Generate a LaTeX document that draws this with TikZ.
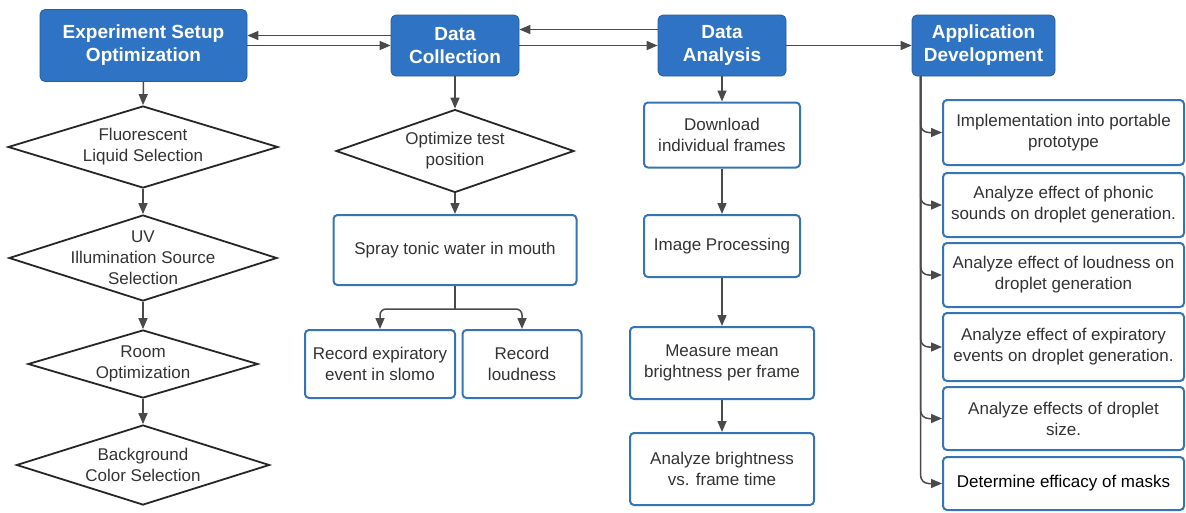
\documentclass[tikz,border=0pt]{standalone}
\usepackage{fontspec}
\setmainfont{Liberation Sans}
\usetikzlibrary{shapes.geometric, arrows.meta, positioning}
\definecolor{headblue}{HTML}{2F74C4}
\definecolor{boxblue}{HTML}{3574B5}
\definecolor{arrgray}{HTML}{4A4A4A}
\definecolor{txtgray}{HTML}{333333}

\begin{document}
\begin{tikzpicture}[
    x=1pt, y=-1pt,
    head/.style={
        fill=headblue,
        draw=headblue!80!black,
        line width=0.8pt,
        rounded corners=5pt,
        text=white,
        align=center,
        inner sep=2pt,
        font=\fontsize{19}{23}\selectfont\bfseries
    },
    txtbox/.style={
        draw=boxblue,
        fill=white,
        line width=2pt,
        rounded corners=4pt,
        text=txtgray,
        align=center,
        inner sep=1pt,
        font=\fontsize{17}{21}\selectfont
    },
    decision/.style={diamond, draw=black!85, line width=1.8pt, inner sep=0pt},
    dlabel/.style={align=center, text=txtgray, font=\fontsize{17}{21}\selectfont},
    arr/.style={draw=arrgray, line width=1.5pt, -{Triangle[length=11pt,width=9pt]}}
]
\useasboundingbox (0,0) rectangle (1186,512);

% Header row
\node[head, minimum width=207pt, minimum height=72pt] (setup) at (143.5,45.5) {Experiment Setup\\Optimization};
\node[head, minimum width=128pt, minimum height=61pt] (collect) at (455,45.5) {Data\\Collection};
\node[head, minimum width=128pt, minimum height=61pt] (analysis) at (722,45.5) {Data\\Analysis};
\node[head, minimum width=143pt, minimum height=61pt] (appdev) at (983.5,45.5) {Application\\Development};

\draw[arr] (setup.east) -- (collect.west);
\draw[arr] ([yshift=10pt]collect.west) -- ([yshift=10pt]collect.west -| setup.east);
\draw[arr] (collect.east) -- (analysis.west);
\draw[arr] ([yshift=16pt]analysis.west) -- ([yshift=16pt]analysis.west -| collect.east);
\draw[arr] (analysis.east) -- (appdev.west);

% Column 1: setup decisions
\node[decision, minimum width=270pt, minimum height=82pt] (fluo) at (143,147) {};
\node[dlabel] (fluotxt) at (fluo) {Fluorescent\\Liquid Selection};
\node[decision, minimum width=268pt, minimum height=86pt] (uv) at (143,258) {};
\node[dlabel] (uvtxt) at (uv) {UV\\Illumination Source\\Selection};
\node[decision, minimum width=230pt, minimum height=68pt] (room) at (143,364) {};
\node[dlabel] (roomtxt) at (room) {Room\\Optimization};
\node[decision, minimum width=253pt, minimum height=80pt] (backgr) at (143,465) {};
\node[dlabel] (backgrtxt) at (backgr) {Background\\Color Selection};

\draw[arr] (setup.south) -- (fluo.north);
\draw[arr] (fluo.south) -- (uv.north);
\draw[arr] (uv.south) -- (room.north);
\draw[arr] (room.south) -- (backgr.north);

% Column 2: data collection
\node[decision, minimum width=238pt, minimum height=83pt] (testpos) at (455,151) {};
\node[dlabel] (testpostxt) at (testpos) {Optimize test\\position};
\node[txtbox, minimum width=243pt, minimum height=70pt] (spray) at (455,250) {Spray tonic water in mouth};
\node[txtbox, minimum width=150pt, minimum height=68pt] (slomo) at (380,364) {Record expiratory\\event in slomo};
\node[txtbox, minimum width=119pt, minimum height=68pt] (loud) at (522,364) {Record\\loudness};
\coordinate (split) at (455,309);

\draw[arr] (collect.south) -- (testpos.north);
\draw[arr] (testpos.south) -- (spray.north);
\draw[draw=arrgray, line width=1.2pt] (spray.south) -- (split);
\draw[arr, rounded corners=6pt] (split) -| (slomo.north);
\draw[arr, rounded corners=6pt] (split) -| (loud.north);

% Column 3: data analysis
\node[txtbox, minimum width=156pt, minimum height=65pt] (frames) at (722,135) {Download\\individual frames};
\node[txtbox, minimum width=156pt, minimum height=62pt] (imgproc) at (722,246) {Image Processing};
\node[txtbox, minimum width=184pt, minimum height=72pt] (measure) at (722,363) {Measure mean\\brightness per frame};
\node[txtbox, minimum width=184pt, minimum height=72pt] (brightvt) at (722,469) {Analyze brightness\\vs. frame time};

\draw[arr] (analysis.south) -- (frames.north);
\draw[arr] (frames.south) -- (imgproc.north);
\draw[arr] (imgproc.south) -- (measure.north);
\draw[arr] (measure.south) -- (brightvt.north);

% Column 4: application development
\node[txtbox, minimum width=241pt, minimum height=65pt] (app1) at (1063.5,132.5) {Implementation into portable\\prototype};
\node[txtbox, minimum width=241pt, minimum height=64pt] (app2) at (1063.5,205) {Analyze effect of phonic\\sounds on droplet generation.};
\node[txtbox, minimum width=241pt, minimum height=64pt] (app3) at (1063.5,275) {Analyze effect of loudness on\\droplet generation};
\node[txtbox, minimum width=241pt, minimum height=68pt] (app4) at (1063.5,347) {Analyze effect of expiratory\\events on droplet generation.};
\node[txtbox, minimum width=241pt, minimum height=63pt] (app5) at (1063.5,418.5) {Analyze effects of droplet\\size.};
\node[txtbox, minimum width=241pt, minimum height=53pt, text=black] (app6) at (1063.5,483.5) {Determine efficacy of masks};
\coordinate (trunk) at ([xshift=9pt]appdev.south west);

\foreach \b in {app1,app2,app3,app4,app5,app6}
    \draw[arr, rounded corners=8pt] (trunk) |- (\b.west);

\end{tikzpicture}
\end{document}
